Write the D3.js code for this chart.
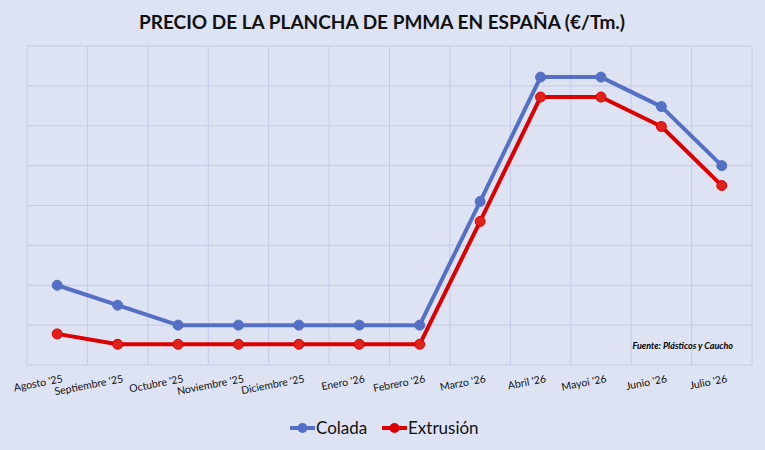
<!DOCTYPE html>
<html><head><meta charset="utf-8">
<script src="https://cdn.jsdelivr.net/npm/d3@7"></script>
<style>body{margin:0;background:#dde3f3;font-family:Lato,"Open Sans",sans-serif}</style>
</head><body>
<svg id="chart" width="765" height="450"></svg>
<script>
// data (arbitrary units, no y labels shown)
const months = ["Agosto '25","Septiembre '25","Octubre '25","Noviembre '25","Diciembre '25","Enero '26","Febrero '26","Marzo '26","Abril '26","Mayoi '26","Junio '26","Julio '26"];
const colada = [2.0, 1.5, 1.0, 1.0, 1.0, 1.0, 1.0, 4.1, 7.22, 7.22, 6.48, 5.0];
const extrusion = [0.78, 0.52, 0.52, 0.52, 0.52, 0.52, 0.52, 3.6, 6.72, 6.72, 5.98, 4.5];
const yTicks = [0,1,2,3,4,5,6,7,8];

const svg = d3.select("#chart");
const plotL = 27, plotR = 752, plotT = 46, plotB = 365;

svg.append("text").attr("x", 382).attr("y", 29).attr("text-anchor","middle")
  .attr("font-size", 19).attr("font-weight", "bold").attr("fill", "#111")
  .text("PRECIO DE LA PLANCHA DE PMMA EN ESPAÑA (€/Tm.)");

const x = d3.scaleBand().domain(months).range([plotL, plotR]);
const y = d3.scaleLinear().domain([0, 8]).range([plotB, plotT]);

// grid
svg.append("g").selectAll("line").data(yTicks).join("line")
  .attr("x1", plotL).attr("x2", plotR).attr("y1", d => y(d)).attr("y2", d => y(d))
  .attr("stroke", "#c3cbe8").attr("stroke-width", 1);
svg.append("g").selectAll("line").data(months.concat([null])).join("line")
  .attr("x1", (d,i) => plotL + i*x.bandwidth()).attr("x2", (d,i) => plotL + i*x.bandwidth())
  .attr("y1", plotT).attr("y2", plotB)
  .attr("stroke", "#c3cbe8").attr("stroke-width", 1);

// x labels
svg.append("g").selectAll("text").data(months).join("text")
  .attr("transform", d => `translate(${x(d)+x.bandwidth()/2+6},${382}) rotate(-11)`)
  .attr("text-anchor", "end").attr("font-size", 10.5).attr("fill", "#111")
  .text(d => d);

const line = d3.line().x((d,i) => x(months[i]) + x.bandwidth()/2).y(d => y(d));
function series(vals, color, fill) {
  svg.append("path").datum(vals).attr("d", line).attr("fill", "none")
    .attr("stroke", color).attr("stroke-width", 4).attr("stroke-linejoin", "round");
  svg.append("g").selectAll("circle").data(vals).join("circle")
    .attr("cx", (d,i) => x(months[i]) + x.bandwidth()/2).attr("cy", d => y(d))
    .attr("r", 5).attr("fill", fill).attr("stroke", color).attr("stroke-width", 1);
}
series(colada, "#5470c6", "#5470c6");
series(extrusion, "#dd0000", "#e0221a");

svg.append("text").attr("x", 733).attr("y", 349).attr("text-anchor", "end")
  .attr("font-size", 9).attr("font-style", "italic").attr("font-weight", "bold")
  .text("Fuente: Plásticos y Caucho");

// legend
const legend = [["Colada", "#5470c6"], ["Extrusión", "#dd0000"]];
const lg = svg.append("g").selectAll("g").data(legend).join("g")
  .attr("transform", (d,i) => `translate(${290 + i*92},428)`);
lg.append("line").attr("x1", 0).attr("x2", 25).attr("stroke", d => d[1]).attr("stroke-width", 4);
lg.append("circle").attr("cx", 12.5).attr("r", 5).attr("fill", d => d[1]);
lg.append("text").attr("x", 26).attr("y", 6).attr("font-size", 17).attr("fill", "#111").text(d => d[0]);
</script>
</body></html>
